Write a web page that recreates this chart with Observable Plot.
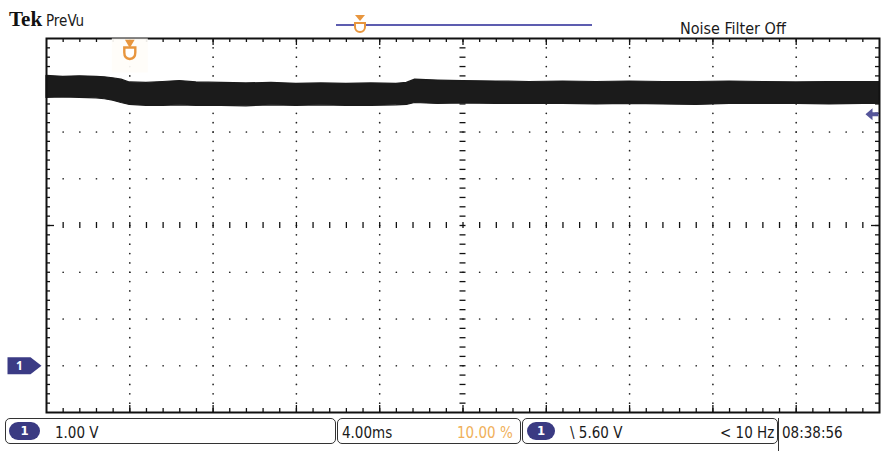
<!DOCTYPE html>
<html><head><meta charset="utf-8">
<script src="https://cdn.jsdelivr.net/npm/d3@7"></script>
<script src="https://cdn.jsdelivr.net/npm/@observablehq/plot@0.6"></script>
<style>
body{margin:0;background:#fff;width:881px;height:451px;overflow:hidden;font-family:"DejaVu Sans Condensed","Liberation Sans Narrow","Roboto",sans-serif;color:#1a1a1a;}
#hdr{position:relative;height:36px;}
#chart{height:378px;}
#chart svg{display:block;}
#ftr{position:relative;height:37px;}
.abs{position:absolute;white-space:nowrap;line-height:1;}
.tek{left:9px;top:9px;font-family:"Liberation Serif","DejaVu Serif",serif;font-weight:bold;font-size:21px;color:#111;}
.prevu{left:46px;top:14px;font-size:15px;}
.recline{left:336px;top:24px;width:256px;height:2px;background:#5d5db0;}
.ttri{left:355px;top:15px;width:0;height:0;border-left:5px solid transparent;border-right:5px solid transparent;border-top:6px solid #e8963e;}
.tshield{left:354px;top:22px;width:8px;height:7px;border:2px solid #e8963e;border-radius:0 0 6px 6px;background:#fff;}
.nf{left:680px;top:21px;font-size:16px;}
.box{position:absolute;top:4px;height:26px;border:1.5px solid #333;border-radius:5px;box-sizing:border-box;}
.pill{position:absolute;top:8px;height:18px;border-radius:9px;background:#3a3a82;color:#fff;font-weight:bold;font-size:13px;line-height:18px;text-align:center;}
.ft{top:12px;font-size:15px;}
</style></head><body>
<div id="hdr">
  <span class="abs tek">Tek</span>
  <span class="abs prevu">PreVu</span>
  <div class="abs recline"></div>
  <div class="abs ttri"></div>
  <div class="abs tshield"></div>
  <span class="abs nf">Noise Filter Off</span>
</div>
<div id="chart"></div>
<div id="ftr">
  <div class="box" style="left:5px;width:331px;"></div>
  <div class="pill" style="left:9px;width:31px;">1</div>
  <span class="abs ft" style="left:55px;">1.00 V</span>
  <div class="box" style="left:337px;width:184px;"></div>
  <span class="abs ft" style="left:342px;">4.00ms</span>
  <span class="abs ft" style="left:457px;color:#f0b05a;">10.00 %</span>
  <div class="box" style="left:522px;width:256px;"></div>
  <div class="pill" style="left:527px;width:28px;">1</div>
  <span class="abs ft" style="left:570px;">\ 5.60 V</span>
  <span class="abs ft" style="left:720px;">&lt; 10 Hz</span>
  <div class="abs" style="left:778px;top:4px;width:0;height:33px;border-left:1.5px solid #333;"></div>
  <span class="abs ft" style="left:782px;">08:38:56</span>
</div>
<script>
// ---- data (time in ms, voltage in V, 1 V/div, 4 ms/div) ----
const timeMs = [-4, -3.2, -2.4, -1.6, -1.2, -0.8, -0.4, 0, 0.8, 1.6, 2.4, 3.2, 4.4, 5.6, 6.8, 8, 9.2, 10.4, 11.6, 12.8, 13.3, 13.7, 14.8, 16, 17.6, 19.2, 20.8, 22.4, 24, 25.6, 27.2, 28.8, 30.4, 32, 33.6, 35.2, 36];
const upperV = [6.20, 6.18, 6.19, 6.18, 6.17, 6.15, 6.12, 6.06, 6.05, 6.07, 6.09, 6.06, 6.05, 6.04, 6.05, 6.03, 6.04, 6.03, 6.04, 6.03, 6.05, 6.12, 6.10, 6.09, 6.08, 6.07, 6.08, 6.07, 6.08, 6.07, 6.07, 6.08, 6.07, 6.06, 6.07, 6.07, 6.07];
const lowerV = [5.73, 5.74, 5.73, 5.72, 5.70, 5.67, 5.62, 5.58, 5.56, 5.56, 5.57, 5.56, 5.56, 5.55, 5.57, 5.56, 5.57, 5.56, 5.56, 5.57, 5.58, 5.62, 5.60, 5.61, 5.60, 5.60, 5.60, 5.59, 5.60, 5.59, 5.58, 5.60, 5.60, 5.60, 5.59, 5.60, 5.60];
const timeDomain = [-4, 36];
const voltDomain = [-1, 7];
const timeGrid = [0, 4, 8, 12, 20, 24, 28, 32];
const voltGrid = [0, 1, 2, 4, 5, 6];
const centerTime = 16;
const centerVolt = 3;
const groundLevel = [0];
const triggerTime = [0];
const triggerLevelMarker = [5.38];

const trace = timeMs.map((t, i) => ({t, hi: upperV[i], lo: lowerV[i]}));
const minorT = d3.range(-4, 36.0001, 0.8).filter(t => t > -3.9 && t < 35.9);
const minorV = d3.range(-1, 7.0001, 0.2).filter(v => v > -0.95 && v < 6.95);
const majorT = minorT.filter(t => Math.abs(Math.round(t / 4) * 4 - t) < 1e-6);
const gridDots = [];
for (const t of timeGrid) for (const v of minorV) gridDots.push({t, v});
for (const v of voltGrid) for (const t of minorT) gridDots.push({t, v});

const W = 881, H = 378, mL = 46, mR = 2, mT = 2, mB = 2;
const fw = W - mL - mR, fh = H - mT - mB;

const pentagon = {draw(c) { c.moveTo(-17, -8.5); c.lineTo(6, -8.5); c.lineTo(17, 0); c.lineTo(6, 8.5); c.lineTo(-17, 8.5); c.closePath(); }};
const leftArrow = {draw(c) { c.moveTo(-7, 0); c.lineTo(0, -6); c.lineTo(0, -2); c.lineTo(6, -2); c.lineTo(6, 2); c.lineTo(0, 2); c.lineTo(0, 6); c.closePath(); }};
const halo = {draw(c) { c.rect(-18, -16, 36, 34); }};
const shield = {draw(c) { c.moveTo(-5.5, -5); c.lineTo(5.5, -5); c.lineTo(5.5, 0); c.quadraticCurveTo(5.5, 6, 0, 6.5); c.quadraticCurveTo(-5.5, 6, -5.5, 0); c.closePath(); }};

const chart = Plot.plot({
  width: W, height: H, marginLeft: mL, marginRight: mR, marginTop: mT, marginBottom: mB,
  x: {domain: timeDomain, axis: null},
  y: {domain: voltDomain, axis: null},
  style: {background: "transparent", overflow: "visible"},
  marks: [
    Plot.dot(gridDots, {x: "t", y: "v", r: 0.85, fill: "#222", stroke: null}),
    // center crosshair ticks
    Plot.tickX(minorT, {x: d => d, insetTop: fh / 2 - 3, insetBottom: fh / 2 - 3, stroke: "#111", strokeWidth: 1.3}),
    Plot.tickY(minorV, {y: d => d, insetLeft: fw / 2 - 3, insetRight: fw / 2 - 3, stroke: "#111", strokeWidth: 1.3}),
    // edge ticks
    Plot.tickX(minorT, {x: d => d, insetBottom: fh - 4, stroke: "#111", strokeWidth: 1.3}),
    Plot.tickX(majorT, {x: d => d, insetBottom: fh - 7, stroke: "#111", strokeWidth: 1.3}),
    Plot.tickX(minorT, {x: d => d, insetTop: fh - 4, stroke: "#111", strokeWidth: 1.3}),
    Plot.tickX(majorT, {x: d => d, insetTop: fh - 7, stroke: "#111", strokeWidth: 1.3}),
    Plot.tickY(minorV, {y: d => d, insetRight: fw - 4, stroke: "#111", strokeWidth: 1.3}),
    Plot.tickY([centerVolt], {y: d => d, insetRight: fw - 8, stroke: "#111", strokeWidth: 1.3}),
    Plot.tickY(minorV, {y: d => d, insetLeft: fw - 4, stroke: "#111", strokeWidth: 1.3}),
    Plot.tickY([centerVolt], {y: d => d, insetLeft: fw - 8, stroke: "#111", strokeWidth: 1.3}),
    // signal band
    Plot.areaY(trace, {x: "t", y1: "lo", y2: "hi", fill: "#1b1b1b", stroke: "#1b1b1b", strokeWidth: 1.2}),
    Plot.frame({stroke: "#111", strokeWidth: 2}),
    // trigger position marker
    Plot.dot(triggerTime, {x: d => d, frameAnchor: "top", symbol: halo, fill: "#fffdf8", fillOpacity: 0.92, stroke: null, dy: 16}),
    Plot.dot(triggerTime, {x: d => d, frameAnchor: "top", symbol: "triangle", rotate: 180, r: 3.6, fill: "#e8963e", stroke: null, dy: 4}),
    Plot.dot(triggerTime, {x: d => d, frameAnchor: "top", symbol: shield, fill: "#fff", stroke: "#e8963e", strokeWidth: 2.4, dy: 14}),
    // ground marker
    Plot.dot(groundLevel, {x: () => timeDomain[0], y: d => d, symbol: pentagon, fill: "#3b3b85", stroke: null, dx: -22}),
    Plot.text(groundLevel, {x: () => timeDomain[0], y: d => d, text: () => "1", dx: -27, fill: "#fff", fontSize: 12, fontWeight: "bold"}),
    // trigger level marker
    Plot.dot(triggerLevelMarker, {x: () => timeDomain[1], y: d => d, symbol: leftArrow, fill: "#55559a", stroke: null, dx: -7})
  ]
});
document.getElementById("chart").appendChild(chart);
</script>
</body></html>
